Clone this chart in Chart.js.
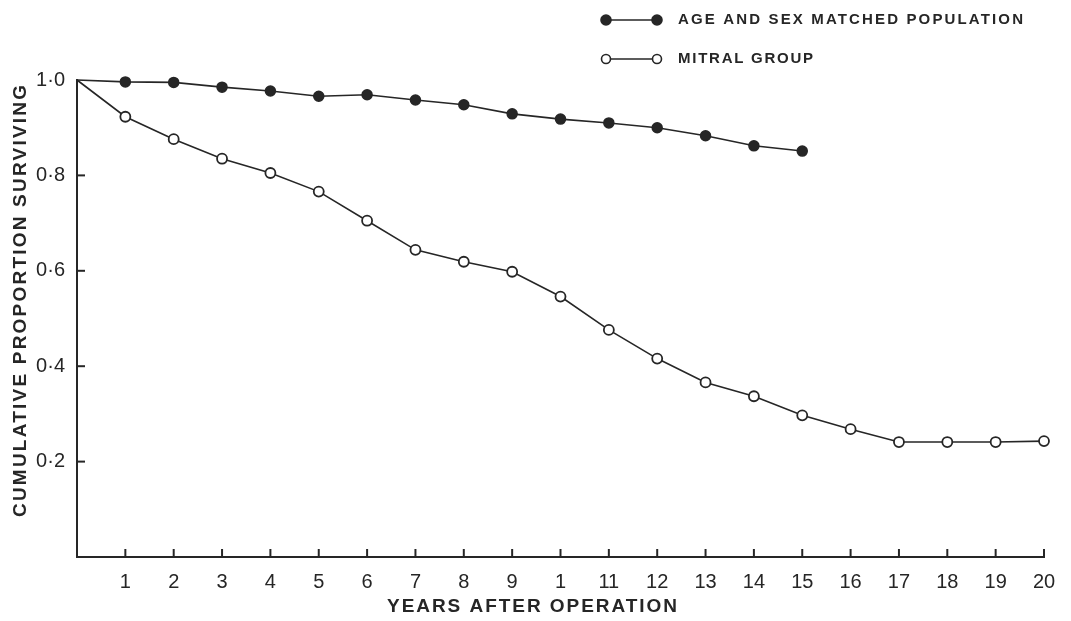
<!DOCTYPE html>
<html>
<head>
<meta charset="utf-8">
<script src="https://cdn.jsdelivr.net/npm/chart.js@4/dist/chart.umd.min.js"></script>
<style>
html,body{margin:0;padding:0;background:#fff;}
#wrap{width:1071px;height:621px;position:relative;}
</style>
</head>
<body>
<div id="wrap"><canvas id="c" width="1071" height="621"></canvas></div>
<script>
// ---- data ----
const matchedYears = [0,1,2,3,4,5,6,7,8,9,10,11,12,13,14,15];
const matchedValues = [1.0,0.996,0.995,0.985,0.977,0.966,0.969,0.958,0.948,0.929,0.918,0.910,0.900,0.883,0.862,0.851];
const mitralYears = [0,1,2,3,4,5,6,7,8,9,10,11,12,13,14,15,16,17,18,19,20];
const mitralValues = [1.0,0.923,0.876,0.835,0.805,0.766,0.705,0.644,0.619,0.598,0.546,0.476,0.416,0.366,0.337,0.297,0.268,0.241,0.241,0.241,0.243];
const xTickLabels = ['','1','2','3','4','5','6','7','8','9','1','11','12','13','14','15','16','17','18','19','20'];
const yTickLabels = ['','0·2','0·4','0·6','0·8','1·0'];
const seriesNames = ['AGE AND SEX MATCHED POPULATION','MITRAL GROUP'];
const xTitle = 'YEARS AFTER OPERATION';
const yTitle = 'CUMULATIVE PROPORTION SURVIVING';

const INK = '#262626';
const FONT = '"Liberation Sans", Arial, sans-serif';

function pts(xs, ys){ return xs.map((x,i)=>({x:x,y:ys[i]})); }
function radii(n){ return Array.from({length:n},(_,i)=> i===0 ? 0 : 5); }

function drawFitted(ctx, text, x, y, target, font, align){
  ctx.save();
  ctx.font = font;
  ctx.letterSpacing = '0px';
  const w = ctx.measureText(text).width;
  const ls = (target - w) / (text.length - 1);
  ctx.letterSpacing = ls + 'px';
  const w2 = ctx.measureText(text).width - ls;
  ctx.textBaseline = 'middle';
  ctx.textAlign = 'left';
  let sx = x;
  if (align === 'center') sx = x - w2/2;
  ctx.fillText(text, sx, y);
  ctx.restore();
  return ls;
}

const decor = {
  id: 'decor',
  afterDraw(chart){
    const ctx = chart.ctx;
    const xs = chart.scales.x, ys = chart.scales.y;
    const ca = chart.chartArea;
    ctx.save();
    ctx.strokeStyle = INK;
    ctx.lineWidth = 2;
    xs.ticks.forEach((t,i)=>{
      if (i===0) return;
      const px = xs.getPixelForValue(t.value);
      ctx.beginPath(); ctx.moveTo(px, ca.bottom); ctx.lineTo(px, ca.bottom-8); ctx.stroke();
    });
    ys.ticks.forEach((t,i)=>{
      if (i===0 || i===ys.ticks.length-1) return;
      const py = ys.getPixelForValue(t.value);
      ctx.beginPath(); ctx.moveTo(ca.left, py); ctx.lineTo(ca.left+8, py); ctx.stroke();
    });
    ctx.fillStyle = INK;
    drawFitted(ctx, xTitle, 532, 607, 290, 'bold 19px '+FONT, 'center');
    ctx.save();
    ctx.translate(21, 301);
    ctx.rotate(-Math.PI/2);
    drawFitted(ctx, yTitle, 0, 0, 432, 'bold 19px '+FONT, 'center');
    ctx.restore();
    const rows = [
      {y:20, fill:true, name:seriesNames[0], target:345},
      {y:59, fill:false, name:seriesNames[1], target:135}
    ];
    rows.forEach(r=>{
      ctx.lineWidth = 1.6;
      ctx.strokeStyle = INK;
      ctx.beginPath(); ctx.moveTo(606, r.y); ctx.lineTo(657, r.y); ctx.stroke();
      [606,657].forEach(cx=>{
        ctx.beginPath(); ctx.arc(cx, r.y, r.fill?5:4.5, 0, Math.PI*2);
        ctx.fillStyle = r.fill ? INK : '#fff';
        ctx.fill(); ctx.stroke();
      });
      ctx.fillStyle = INK;
      drawFitted(ctx, r.name, 678, r.y, r.target, 'bold 15px '+FONT, 'left');
    });
    ctx.restore();
  }
};

new Chart(document.getElementById('c'), {
  type: 'line',
  data: {
    datasets: [
      {
        label: seriesNames[0],
        data: pts(matchedYears, matchedValues),
        borderColor: INK, borderWidth: 1.6,
        backgroundColor: INK,
        pointBackgroundColor: INK, pointBorderColor: INK,
        pointRadius: radii(matchedYears.length), pointBorderWidth: 1.5,
        tension: 0, clip: false
      },
      {
        label: seriesNames[1],
        data: pts(mitralYears, mitralValues),
        borderColor: INK, borderWidth: 1.6,
        backgroundColor: '#fff',
        pointBackgroundColor: '#fff', pointBorderColor: INK,
        pointRadius: radii(mitralYears.length), pointBorderWidth: 1.8,
        tension: 0, clip: false
      }
    ]
  },
  options: {
    responsive: false,
    animation: false,
    layout: { padding: { top: 80, right: 27, left: 0, bottom: 0 } },
    plugins: { legend: { display: false }, tooltip: { enabled: false } },
    scales: {
      x: {
        type: 'linear', min: 0, max: 20,
        afterFit(s){ s.height = 64; },
        grid: { display: false, drawTicks: false },
        border: { display: true, color: INK, width: 2 },
        ticks: {
          stepSize: 1, autoSkip: false, maxRotation: 0, padding: 13,
          color: INK, font: { family: FONT, size: 20 },
          callback: (v, i) => xTickLabels[i]
        }
      },
      y: {
        type: 'linear', min: 0, max: 1,
        afterFit(s){ s.width = 77; },
        grid: { display: false, drawTicks: false },
        border: { display: true, color: INK, width: 2 },
        ticks: {
          stepSize: 0.2, padding: 12,
          color: INK, font: { family: FONT, size: 20 },
          callback: (v, i) => yTickLabels[i]
        }
      }
    }
  },
  plugins: [decor]
});
</script>
</body>
</html>
